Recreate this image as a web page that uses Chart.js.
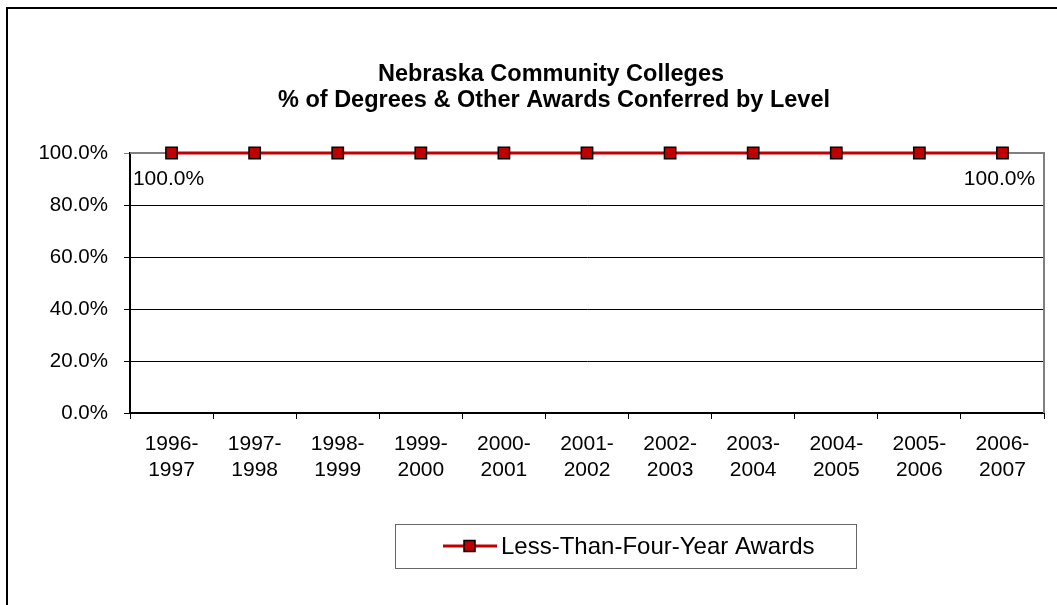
<!DOCTYPE html>
<html>
<head>
<meta charset="utf-8">
<script src="https://cdn.jsdelivr.net/npm/chart.js@4/dist/chart.umd.min.js"></script>
<style>
  html, body { margin: 0; padding: 0; background: #fff; }
  #wrap { width: 1057px; height: 605px; position: relative; }
</style>
</head>
<body>
<div id="wrap"><canvas id="chart" width="1057" height="605"></canvas></div>
<script>
const years = ["1996-1997", "1997-1998", "1998-1999", "1999-2000", "2000-2001", "2001-2002",
               "2002-2003", "2003-2004", "2004-2005", "2005-2006", "2006-2007"];
const lessThanFourYear = [1, 1, 1, 1, 1, 1, 1, 1, 1, 1, 1];
const yTicks = [0, 0.2, 0.4, 0.6, 0.8, 1.0];
const seriesName = "Less-Than-Four-Year Awards";
const titleLines = ["Nebraska Community Colleges", "% of Degrees & Other Awards Conferred by Level"];

const FONT = "'Liberation Sans', Arial, sans-serif";
const RED = "#c00000";

function pct(v) { return (v * 100).toFixed(1) + "%"; }

// frame, title, plot border, data labels and boxed legend
const excelLook = {
  id: "excelLook",
  beforeDraw(chart) {
    const ctx = chart.ctx;
    ctx.save();
    ctx.fillStyle = "#fff";
    ctx.fillRect(0, 0, chart.width, chart.height);
    ctx.strokeStyle = "#000";
    ctx.lineWidth = 2;
    ctx.strokeRect(7, 8, chart.width + 20, chart.height + 20);
    ctx.restore();
  },
  beforeDatasetsDraw(chart) {
    const ctx = chart.ctx, a = chart.chartArea;
    ctx.save();
    ctx.strokeStyle = "#808080";
    ctx.lineWidth = 2;
    ctx.beginPath();
    ctx.moveTo(a.left, a.top);
    ctx.lineTo(a.right, a.top);
    ctx.lineTo(a.right, a.bottom);
    ctx.stroke();
    ctx.restore();
  },
  afterDraw(chart) {
    const ctx = chart.ctx;
    ctx.save();
    // title
    ctx.fillStyle = "#000";
    ctx.font = "bold 23.5px " + FONT;
    ctx.textAlign = "center";
    ctx.textBaseline = "middle";
    ctx.fillText(titleLines[0], 551, 75);
    ctx.fillText(titleLines[1], 554, 101);

    // labels on first and last points
    const meta = chart.getDatasetMeta(0);
    ctx.font = "21px " + FONT;
    [0, meta.data.length - 1].forEach(i => {
      const p = meta.data[i];
      ctx.fillText(pct(lessThanFourYear[i]), p.x - 3, p.y + 26);
    });

    // legend
    const lx = 395, ly = 524, lw = 461, lh = 44;
    ctx.strokeStyle = "#666";
    ctx.lineWidth = 1;
    ctx.strokeRect(lx + 0.5, ly + 0.5, lw, lh);
    const cy = ly + lh / 2;
    ctx.strokeStyle = RED;
    ctx.lineWidth = 3;
    ctx.beginPath();
    ctx.moveTo(443, cy);
    ctx.lineTo(497, cy);
    ctx.stroke();
    ctx.fillStyle = RED;
    ctx.fillRect(464, cy - 5.5, 11, 11);
    ctx.strokeStyle = "#000";
    ctx.lineWidth = 1.5;
    ctx.strokeRect(464, cy - 5.5, 11, 11);
    ctx.fillStyle = "#000";
    ctx.textAlign = "left";
    ctx.font = "24px " + FONT;
    ctx.fillText(seriesName, 501, cy + 1);
    ctx.restore();
  }
};

new Chart(document.getElementById("chart"), {
  type: "line",
  data: {
    labels: years.map(y => y.replace("-", "-\n").split("\n")),
    datasets: [{
      label: seriesName,
      data: lessThanFourYear,
      borderColor: RED,
      borderWidth: 3,
      backgroundColor: RED,
      pointStyle: "rect",
      pointRadius: 8,
      pointBorderColor: "#000",
      pointBorderWidth: 1.5,
      pointBackgroundColor: RED,
      tension: 0,
      clip: false
    }]
  },
  options: {
    responsive: false,
    animation: false,
    events: [],
    layout: { padding: { left: 0, top: 153, right: 13, bottom: 0 } },
    plugins: {
      legend: { display: false },
      title: { display: false },
      tooltip: { enabled: false }
    },
    scales: {
      x: {
        offset: true,
        afterFit(scale) { scale.height = 192; },
        grid: { offset: true, drawOnChartArea: false, drawTicks: true, tickLength: 6, color: "#000" },
        border: { color: "#000", width: 2 },
        ticks: { color: "#000", font: { family: FONT, size: 21 }, padding: 13, maxRotation: 0, autoSkip: false }
      },
      y: {
        min: 0,
        max: 1,
        afterFit(scale) { scale.width = 130; },
        afterBuildTicks(scale) { scale.ticks = yTicks.map(v => ({ value: v })); },
        grid: {
          color: ctx => (ctx.tick && ctx.tick.value === 1 ? "#808080" : "#000"),
          tickLength: 6,
          lineWidth: 1
        },
        border: { color: "#000", width: 2 },
        ticks: { color: "#000", font: { family: FONT, size: 20.5 }, padding: 16, callback: v => pct(v) }
      }
    }
  },
  plugins: [excelLook]
});
</script>
</body>
</html>
